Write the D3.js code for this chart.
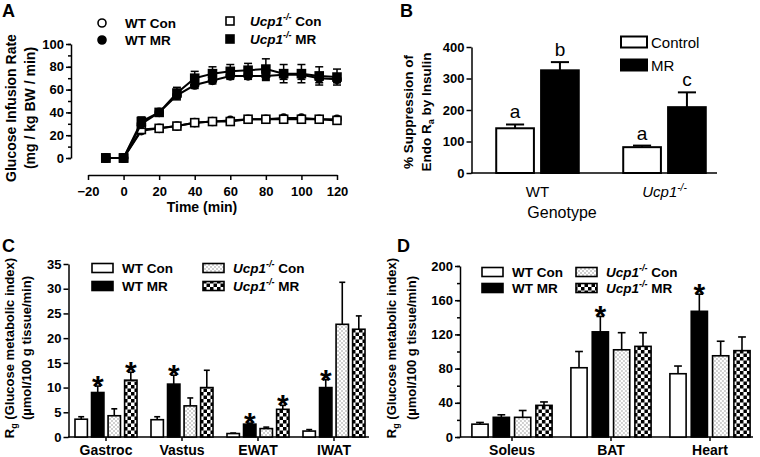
<!DOCTYPE html>
<html>
<head>
<meta charset="utf-8">
<script src="https://cdn.jsdelivr.net/npm/d3@7"></script>
<style>
body { margin: 0; background: #fff; }
svg { font-family: "Liberation Sans", Arial, sans-serif; }
.axis path, .axis line { stroke: #000; stroke-width: 1.5; }
.axis text { font-size: 13px; font-weight: bold; fill: #000; }
</style>
</head>
<body>
<svg id="fig" width="760" height="457"></svg>
<script>
// ---- panel A: glucose infusion rate over time
const timePts = [-10, 0, 10, 20, 30, 40, 50, 60, 70, 80, 90, 100, 110, 120]
const wtCon = [0, 0, 24, 26, 28, 31, 32, 33, 34, 34, 35, 35, 34, 34]
const wtConErr = [0, 0, 2, 2, 2, 2, 2, 2, 2, 2, 2, 2, 2, 2]
const ucpCon = [0, 0, 25, 26, 28, 31, 32, 32, 34, 34, 34, 34, 34, 33]
const ucpConErr = [0, 0, 2, 2, 2, 2, 2, 2, 2, 2, 2, 2, 2, 2]
const wtMR = [0, 0, 30, 40, 55, 64, 68, 72, 72, 72, 73, 73, 70, 69]
const wtMRErr = [0, 0, 4, 3, 4, 3, 3, 3, 3, 4, 4, 4, 4, 3]
const ucpMR = [0, 0, 32, 40, 57, 70, 74, 76, 77, 78, 74, 74, 72, 71]
const ucpMRErr = [0, 0, 4, 3, 5, 6, 6, 6, 6, 9, 8, 8, 8, 7]
const aYTicks = [0, 20, 40, 60, 80, 100]
const aXTicks = [-20, 0, 20, 40, 60, 80, 100, 120]

// ---- panel B: suppression of endo Ra
const bCats = ['WT', 'Ucp1']
const bControl = [142, 82]
const bControlErr = [12, 5]
const bMR = [326, 209]
const bMRErr = [26, 47]
const bControlLetters = ['a', 'a']
const bMRLetters = ['b', 'c']
const bYTicks = [0, 100, 200, 300, 400]

// ---- panel C: Rg in muscle / WAT
const cCats = ['Gastroc', 'Vastus', 'EWAT', 'IWAT']
const cWtCon = [3.6, 3.5, 0.7, 1.2]
const cWtConErr = [0.5, 0.6, 0.1, 0.3]
const cWtMR = [9.0, 10.7, 2.6, 10.0]
const cWtMRErr = [1.3, 1.8, 0.2, 1.6]
const cUcpCon = [4.3, 6.3, 1.7, 22.8]
const cUcpConErr = [1.4, 1.6, 0.3, 8.5]
const cUcpMR = [11.5, 10.0, 5.6, 21.8]
const cUcpMRErr = [1.6, 3.5, 0.8, 2.7]
const cStars = [[1, 3], [1], [1, 3], [1]]
const cYTicks = [0, 5, 10, 15, 20, 25, 30, 35]

// ---- panel D: Rg in soleus / BAT / heart
const dCats = ['Soleus', 'BAT', 'Heart']
const dWtCon = [15, 81, 74]
const dWtConErr = [2, 19, 9]
const dWtMR = [23, 123, 147]
const dWtMRErr = [3, 18, 20]
const dUcpCon = [23, 102, 95]
const dUcpConErr = [8, 20, 17]
const dUcpMR = [37, 106, 101]
const dUcpMRErr = [4, 16, 16]
const dStars = [[], [1], [1]]
const dYTicks = [0, 40, 80, 120, 160, 200]

const svg = d3.select('#fig')

const defs = svg.append('defs')
const dots = defs.append('pattern').attr('id', 'dots')
    .attr('patternUnits', 'userSpaceOnUse').attr('width', 4).attr('height', 4)
dots.append('rect').attr('width', 4).attr('height', 4).attr('fill', '#fff')
dots.append('rect').attr('x', 0.5).attr('y', 0.5).attr('width', 1).attr('height', 1).attr('fill', '#444')
dots.append('rect').attr('x', 2.5).attr('y', 2.5).attr('width', 1).attr('height', 1).attr('fill', '#444')
const checks = defs.append('pattern').attr('id', 'checks')
    .attr('patternUnits', 'userSpaceOnUse').attr('width', 7).attr('height', 7)
checks.append('rect').attr('width', 7).attr('height', 7).attr('fill', '#fff')
checks.append('rect').attr('width', 3.5).attr('height', 3.5).attr('fill', '#000')
checks.append('rect').attr('x', 3.5).attr('y', 3.5).attr('width', 3.5).attr('height', 3.5).attr('fill', '#000')

const seriesFill = ['#fff', '#000', 'url(#dots)', 'url(#checks)']

// Ucp1 with italic name and -/- superscript
const ucpLabel = (text, rest, supSize) => {
    text.append('tspan').style('font-style', 'italic').text('Ucp1')
    text.append('tspan').style('font-style', 'italic').attr('font-size', supSize).attr('dy', -6).text('-/-')
    if (rest) text.append('tspan').attr('dy', 6).text(rest)
}

const panelLabel = (x, y, t) => svg.append('text')
    .attr('x', x).attr('y', y)
    .attr('font-size', 18).attr('font-weight', 'bold')
    .text(t)

const yTitle = (cx, cy, size, lines) => {
    lines.forEach((fill, i) => {
        const t = svg.append('text')
            .attr('transform', `translate(${cx[i]}, ${cy}) rotate(-90)`)
            .attr('text-anchor', 'middle')
            .attr('font-size', size).attr('font-weight', 'bold')
        fill(t)
    })
}

// =================== A ===================
panelLabel(2, 17, 'A')

const xA = d3.scaleLinear().domain([-20, 120]).range([88, 337])
const yA = d3.scaleLinear().domain([0, 100]).range([158, 44])

svg.append('g').attr('class', 'axis')
    .attr('transform', 'translate(71, 0)')
    .call(d3.axisLeft(yA).tickValues(aYTicks).tickSize(5).tickSizeOuter(0).tickPadding(2))
svg.append('g').attr('class', 'axis')
    .attr('transform', 'translate(71, 0)')
    .call(d3.axisLeft(yA).ticks(10).tickSize(3).tickFormat(''))
    .select('.domain').remove()
svg.append('g').attr('class', 'axis')
    .attr('transform', 'translate(0, 175)')
    .call(d3.axisBottom(xA).tickValues(aXTicks).tickSize(5).tickSizeOuter(0).tickPadding(7))

svg.append('text').attr('x', 202).attr('y', 212)
    .attr('text-anchor', 'middle').attr('font-size', 14).attr('font-weight', 'bold')
    .text('Time (min)')

yTitle([16, 35], 108, 14, [
    t => t.text('Glucose Infusion Rate'),
    t => t.text('(mg / kg BW / min)')
])

const aSeries = [
    { vals: wtCon, errs: wtConErr, shape: 'circle', fill: '#fff' },
    { vals: ucpCon, errs: ucpConErr, shape: 'square', fill: '#fff' },
    { vals: wtMR, errs: wtMRErr, shape: 'circle', fill: '#000' },
    { vals: ucpMR, errs: ucpMRErr, shape: 'square', fill: '#000' }
]

const lineA = d3.line().x(d => xA(d.t)).y(d => yA(d.v))

aSeries.forEach(s => {
    const pts = timePts.map((t, i) => ({ t: t, v: s.vals[i], e: s.errs[i] }))
    const g = svg.append('g')
    g.append('path').datum(pts)
        .attr('d', lineA).attr('fill', 'none').attr('stroke', '#000').attr('stroke-width', 2)
    const eb = g.selectAll('.eb').data(pts.filter(d => d.e > 0)).enter().append('g')
    eb.append('line')
        .attr('x1', d => xA(d.t)).attr('x2', d => xA(d.t))
        .attr('y1', d => yA(d.v - d.e)).attr('y2', d => yA(d.v + d.e))
        .attr('stroke', '#000').attr('stroke-width', 1.5)
    eb.append('line')
        .attr('x1', d => xA(d.t) - 4).attr('x2', d => xA(d.t) + 4)
        .attr('y1', d => yA(d.v + d.e)).attr('y2', d => yA(d.v + d.e))
        .attr('stroke', '#000').attr('stroke-width', 1.5)
    eb.append('line')
        .attr('x1', d => xA(d.t) - 4).attr('x2', d => xA(d.t) + 4)
        .attr('y1', d => yA(d.v - d.e)).attr('y2', d => yA(d.v - d.e))
        .attr('stroke', '#000').attr('stroke-width', 1.5)
    if (s.shape === 'circle') {
        g.selectAll('.pt').data(pts).enter().append('circle')
            .attr('cx', d => xA(d.t)).attr('cy', d => yA(d.v)).attr('r', 4)
            .attr('fill', s.fill).attr('stroke', '#000').attr('stroke-width', 1.6)
    } else {
        g.selectAll('.pt').data(pts).enter().append('rect')
            .attr('x', d => xA(d.t) - 4).attr('y', d => yA(d.v) - 4)
            .attr('width', 8).attr('height', 8)
            .attr('fill', s.fill).attr('stroke', '#000').attr('stroke-width', 1.6)
    }
})

// legend A
const legA = [
    { x: 102, y: 23, shape: 'circle', fill: '#fff', label: t => t.text('WT Con') },
    { x: 102, y: 40, shape: 'circle', fill: '#000', label: t => t.text('WT MR') },
    { x: 230, y: 21, shape: 'square', fill: '#fff', label: t => ucpLabel(t, ' Con', 9) },
    { x: 230, y: 39, shape: 'square', fill: '#000', label: t => ucpLabel(t, ' MR', 9) }
]
legA.forEach(l => {
    if (l.shape === 'circle') {
        svg.append('circle').attr('cx', l.x).attr('cy', l.y).attr('r', 4)
            .attr('fill', l.fill).attr('stroke', '#000').attr('stroke-width', 1.6)
    } else {
        svg.append('rect').attr('x', l.x - 4).attr('y', l.y - 4).attr('width', 8).attr('height', 8)
            .attr('fill', l.fill).attr('stroke', '#000').attr('stroke-width', 1.6)
    }
    const t = svg.append('text').attr('x', l.x + (l.shape === 'circle' ? 23 : 20)).attr('y', l.y + 5)
        .attr('font-size', 13.5).attr('font-weight', 'bold')
    l.label(t)
})

// =================== B ===================
panelLabel(400, 17, 'B')

const yB = d3.scaleLinear().domain([0, 400]).range([173, 47])
const xB = d3.scaleBand().domain(bCats).range([474, 728]).paddingInner(0.35).paddingOuter(0.175)
const xBin = d3.scaleBand().domain([0, 1]).range([0, xB.bandwidth()]).paddingInner(0.16)

svg.append('g').attr('class', 'axis')
    .attr('transform', 'translate(471.5, 0)')
    .call(d3.axisLeft(yB).tickValues(bYTicks).tickSize(5).tickSizeOuter(0).tickPadding(2))

const bAxis = svg.append('g').attr('class', 'axis')
    .attr('transform', 'translate(0, 173)')
    .call(d3.axisBottom(xB).tickSize(0).tickSizeOuter(0).tickPadding(13))
bAxis.select('.domain').attr('d', 'M471,0H717')
bAxis.selectAll('.tick text').style('font-size', '15px').style('font-weight', 'normal')
    .each(function (d) {
        if (d === 'Ucp1') {
            const t = d3.select(this).text('')
            ucpLabel(t, '', 10)
        }
    })

svg.append('text').attr('x', 562).attr('y', 218)
    .attr('text-anchor', 'middle').attr('font-size', 16)
    .text('Genotype')

yTitle([413, 431], 112, 13.5, [
    t => t.text('% Suppression of'),
    t => {
        t.append('tspan').text('Endo R')
        t.append('tspan').attr('font-size', 9).attr('dy', 3).text('a')
        t.append('tspan').attr('dy', -3).text(' by Insulin')
    }
])

const bRows = bCats.map((c, i) => ({
    cat: c,
    bars: [
        { s: 0, v: bControl[i], e: bControlErr[i], letter: bControlLetters[i] },
        { s: 1, v: bMR[i], e: bMRErr[i], letter: bMRLetters[i] }
    ]
}))

bRows.forEach(r => {
    const g = svg.append('g').attr('transform', `translate(${xB(r.cat)}, 0)`)
    const bw = xBin.bandwidth()
    r.bars.forEach(b => {
        const cx = xBin(b.s) + bw / 2
        g.append('line')
            .attr('x1', cx).attr('x2', cx).attr('y1', yB(b.v)).attr('y2', yB(b.v + b.e))
            .attr('stroke', '#000').attr('stroke-width', 2)
        g.append('line')
            .attr('x1', cx - bw * 0.24).attr('x2', cx + bw * 0.24)
            .attr('y1', yB(b.v + b.e)).attr('y2', yB(b.v + b.e))
            .attr('stroke', '#000').attr('stroke-width', 2)
        g.append('rect')
            .attr('x', xBin(b.s)).attr('y', yB(b.v))
            .attr('width', bw).attr('height', yB(0) - yB(b.v))
            .attr('fill', seriesFill[b.s]).attr('stroke', '#000').attr('stroke-width', 2)
        g.append('text')
            .attr('x', cx).attr('y', yB(b.v + b.e) - 6)
            .attr('text-anchor', 'middle').attr('font-size', 19)
            .text(b.letter)
    })
})

// legend B
const legB = [{ s: 0, label: 'Control', y: 42 }, { s: 1, label: 'MR', y: 65 }]
legB.forEach(l => {
    svg.append('rect').attr('x', 621).attr('y', l.y - 5.5).attr('width', 26).attr('height', 11)
        .attr('fill', seriesFill[l.s]).attr('stroke', '#000').attr('stroke-width', 2)
    svg.append('text').attr('x', 651).attr('y', l.y + 5.5).attr('font-size', 15).text(l.label)
})

// =================== C & D grouped bars ===================
const groupedBars = ({ cats, series, stars, x, y, padIn }) => {
    const xIn = d3.scaleBand().domain([0, 1, 2, 3]).range([0, x.bandwidth()]).paddingInner(padIn)
    const bw = xIn.bandwidth()
    cats.forEach((c, i) => {
        const g = svg.append('g').attr('transform', `translate(${x(c)}, 0)`)
        series.forEach((s, k) => {
            const v = s.vals[i], e = s.errs[i]
            const cx = xIn(k) + bw / 2
            g.append('line')
                .attr('x1', cx).attr('x2', cx).attr('y1', y(v)).attr('y2', y(v + e))
                .attr('stroke', '#000').attr('stroke-width', 1.6)
            g.append('line')
                .attr('x1', cx - bw * 0.24).attr('x2', cx + bw * 0.24)
                .attr('y1', y(v + e)).attr('y2', y(v + e))
                .attr('stroke', '#000').attr('stroke-width', 1.6)
            g.append('rect')
                .attr('x', xIn(k)).attr('y', y(v))
                .attr('width', bw).attr('height', y(0) - y(v))
                .attr('fill', seriesFill[k]).attr('stroke', '#000').attr('stroke-width', 1.6)
            if (stars[i].includes(k)) {
                g.append('text')
                    .attr('x', cx).attr('y', y(v + e) + 10)
                    .attr('text-anchor', 'middle').attr('font-size', 30).attr('font-weight', 'bold')
                    .text('*')
            }
        })
    })
}

const legendCD = (x1, x2, y1, y2, bw, bh, gap) => {
    const items = [
        { s: 0, x: x1, y: y1, label: t => t.text('WT Con') },
        { s: 1, x: x1, y: y2, label: t => t.text('WT MR') },
        { s: 2, x: x2, y: y1, label: t => ucpLabel(t, ' Con', 9) },
        { s: 3, x: x2, y: y2, label: t => ucpLabel(t, ' MR', 9) }
    ]
    items.forEach(l => {
        svg.append('rect').attr('x', l.x).attr('y', l.y - bh / 2).attr('width', bw).attr('height', bh)
            .attr('fill', seriesFill[l.s]).attr('stroke', '#000').attr('stroke-width', 1.6)
        const t = svg.append('text').attr('x', l.x + bw + gap).attr('y', l.y + 5)
            .attr('font-size', 13.5).attr('font-weight', 'bold')
        l.label(t)
    })
}

// =================== C ===================
panelLabel(2, 252, 'C')

const yC = d3.scaleLinear().domain([0, 35]).range([437, 264])
const xC = d3.scaleBand().domain(cCats).range([68, 372]).paddingInner(0.184).paddingOuter(0.092)

svg.append('g').attr('class', 'axis')
    .attr('transform', 'translate(68.5, 0)')
    .call(d3.axisLeft(yC).tickValues(cYTicks).tickSize(5).tickSizeOuter(0).tickPadding(2))
const cAxis = svg.append('g').attr('class', 'axis')
    .attr('transform', 'translate(0, 437)')
    .call(d3.axisBottom(xC).tickSize(4).tickSizeOuter(0).tickPadding(4))
cAxis.select('.domain').attr('d', 'M68,0H369')
cAxis.selectAll('.tick text').style('font-size', '14px')

yTitle([14, 31], 348, 13, [
    t => {
        t.append('tspan').text('R')
        t.append('tspan').attr('font-size', 9).attr('dy', 3).text('g')
        t.append('tspan').attr('dy', -3).text(' (Glucose metabolic index)')
    },
    t => t.text('(µmol/100 g tissue/min)')
])

groupedBars({
    cats: cCats,
    series: [
        { vals: cWtCon, errs: cWtConErr },
        { vals: cWtMR, errs: cWtMRErr },
        { vals: cUcpCon, errs: cUcpConErr },
        { vals: cUcpMR, errs: cUcpMRErr }
    ],
    stars: cStars, x: xC, y: yC, padIn: 0.25
})
legendCD(92, 203, 268, 286, 21, 9, 9)

// =================== D ===================
panelLabel(397, 252, 'D')

const yD = d3.scaleLinear().domain([0, 200]).range([437, 266])
const xD = d3.scaleBand().domain(dCats).range([462.5, 759.5]).paddingInner(0.19).paddingOuter(0.095)

svg.append('g').attr('class', 'axis')
    .attr('transform', 'translate(460, 0)')
    .call(d3.axisLeft(yD).tickValues(dYTicks).tickSize(5).tickSizeOuter(0).tickPadding(2))
svg.append('g').attr('class', 'axis')
    .attr('transform', 'translate(460, 0)')
    .call(d3.axisLeft(yD).ticks(10).tickSize(3).tickFormat(''))
    .select('.domain').remove()
const dAxis = svg.append('g').attr('class', 'axis')
    .attr('transform', 'translate(0, 437)')
    .call(d3.axisBottom(xD).tickSize(4).tickSizeOuter(0).tickPadding(4))
dAxis.select('.domain').attr('d', 'M460,0H753')
dAxis.selectAll('.tick text').style('font-size', '14px')

yTitle([396, 416], 348, 13, [
    t => {
        t.append('tspan').text('R')
        t.append('tspan').attr('font-size', 9).attr('dy', 3).text('g')
        t.append('tspan').attr('dy', -3).text(' (Glucose metabolic index)')
    },
    t => t.text('(µmol/100 g tissue/min)')
])

groupedBars({
    cats: dCats,
    series: [
        { vals: dWtCon, errs: dWtConErr },
        { vals: dWtMR, errs: dWtMRErr },
        { vals: dUcpCon, errs: dUcpConErr },
        { vals: dUcpMR, errs: dUcpMRErr }
    ],
    stars: dStars, x: xD, y: yD, padIn: 0.24
})
legendCD(482, 576, 272, 288, 21, 9, 9)
</script>
</body>
</html>
